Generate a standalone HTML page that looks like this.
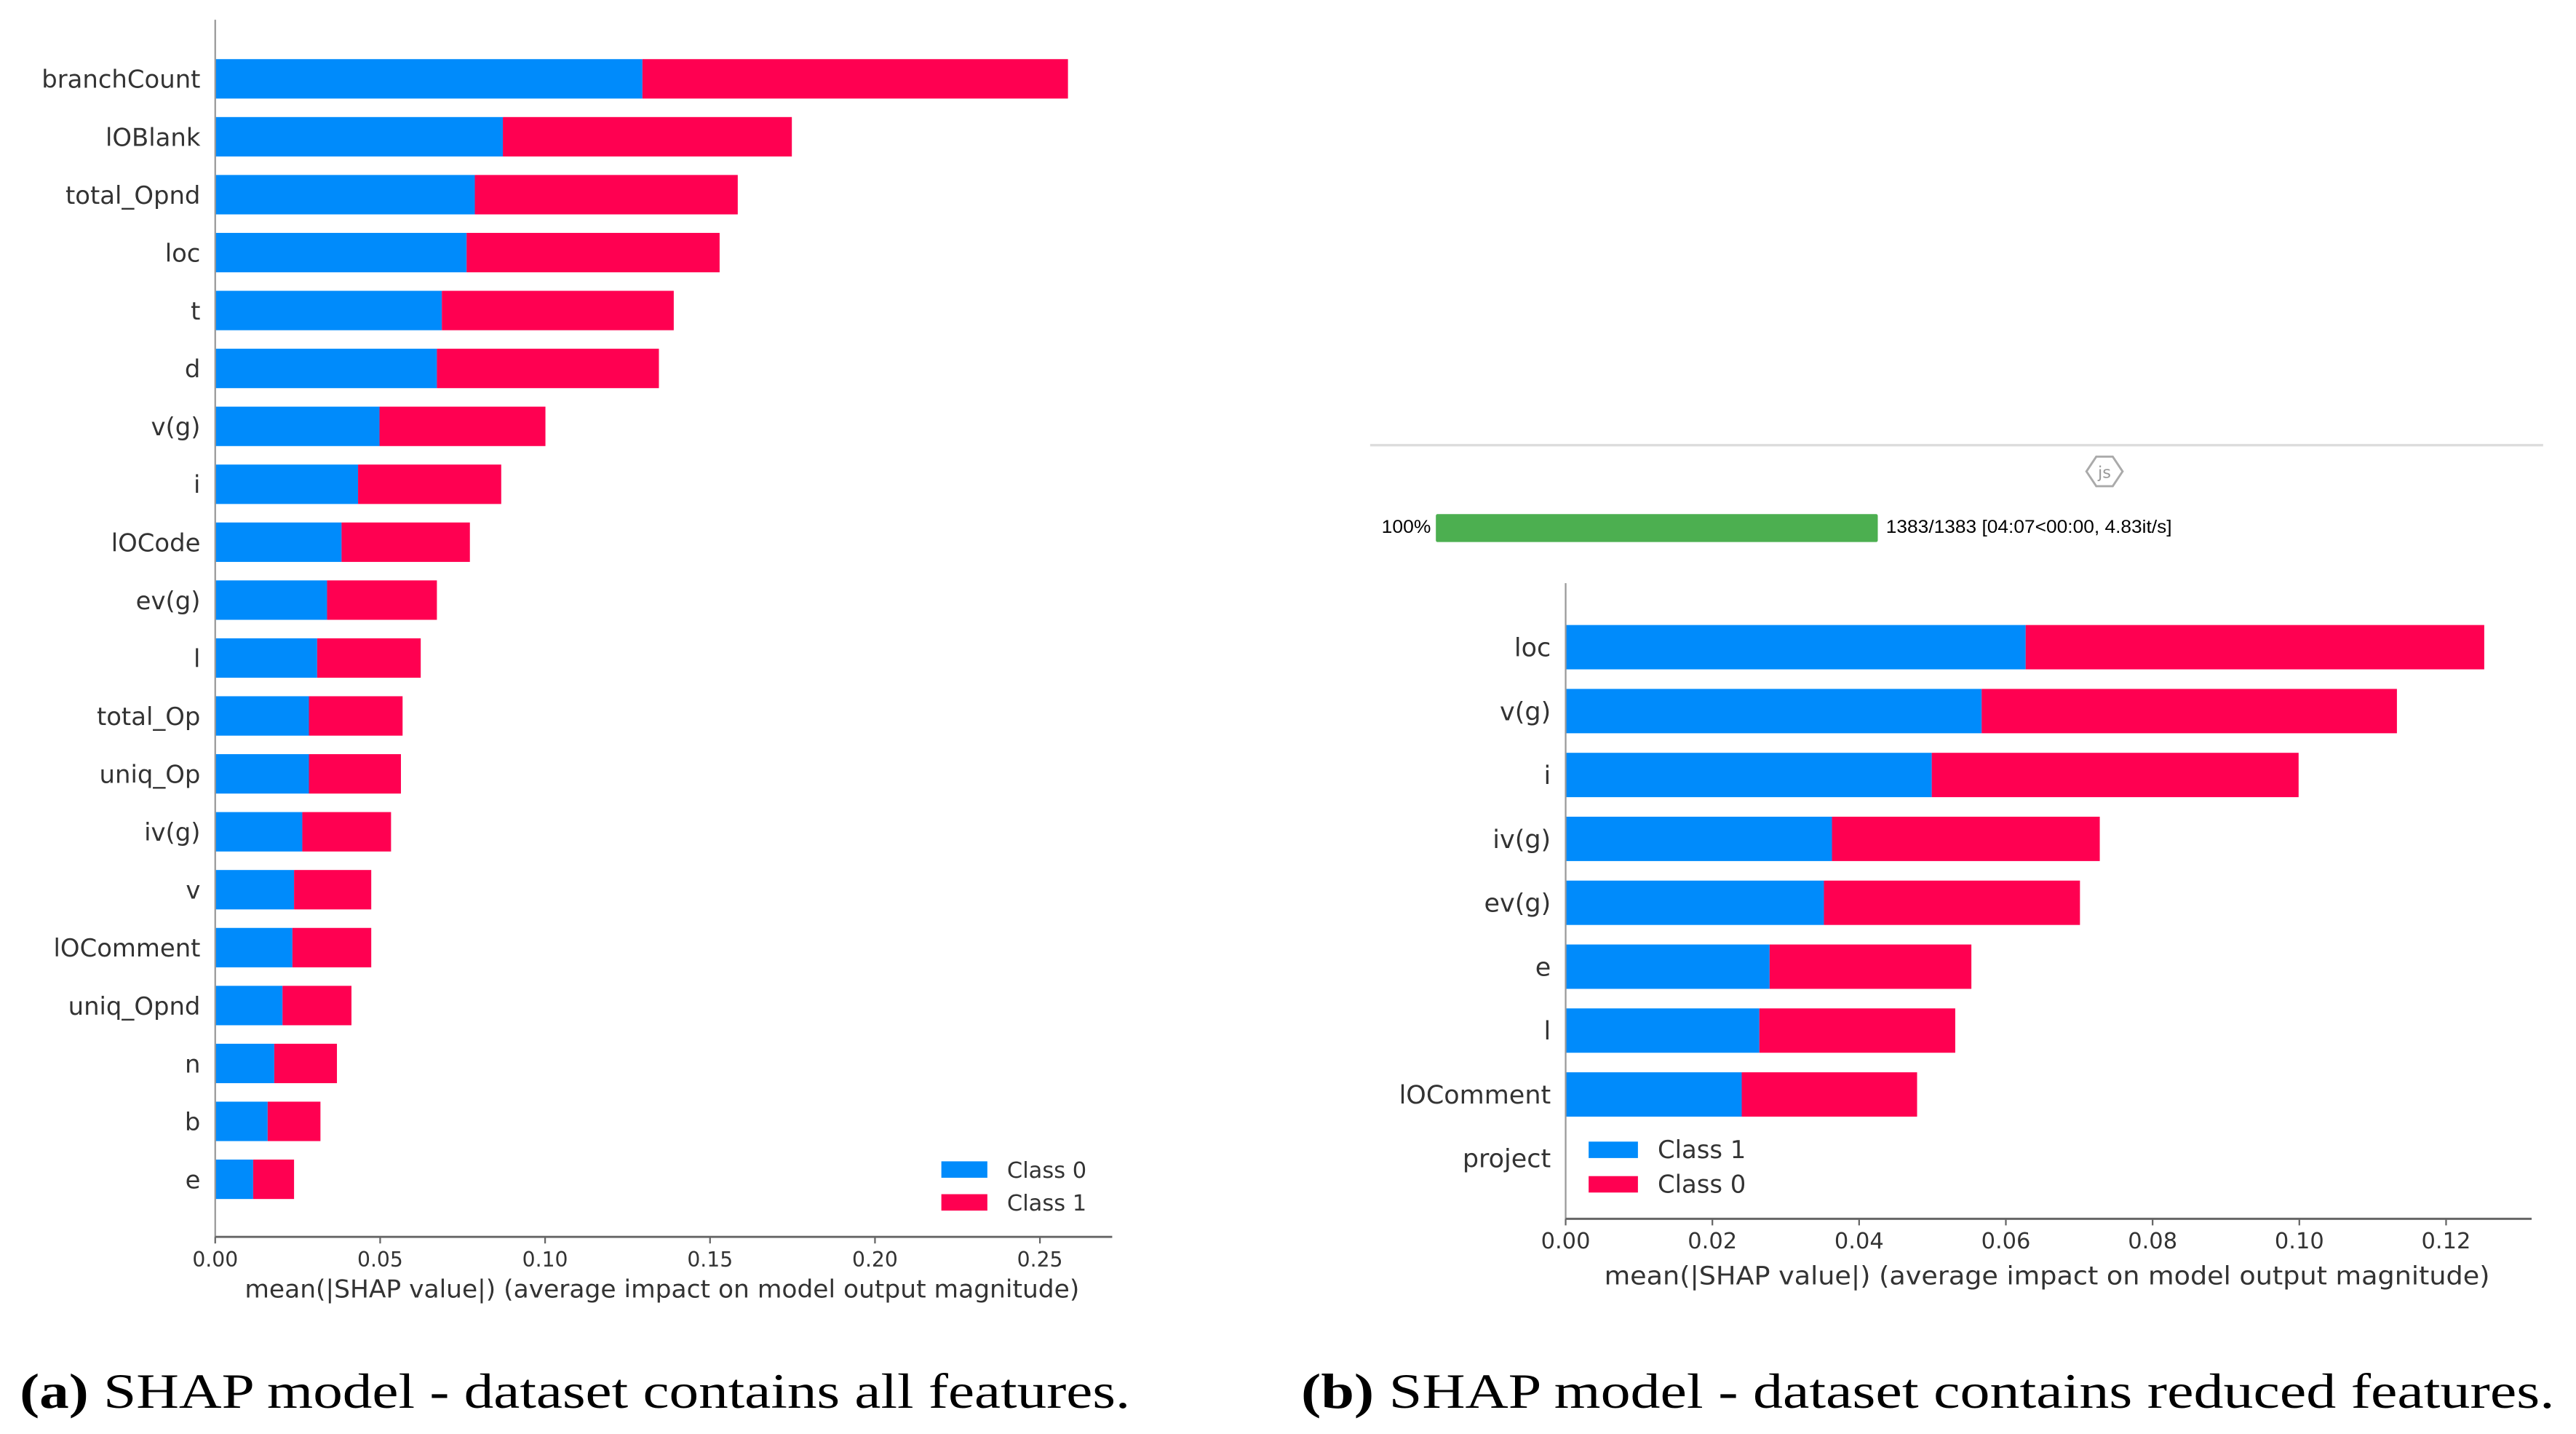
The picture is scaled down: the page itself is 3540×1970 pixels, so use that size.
<!DOCTYPE html>
<html><head><meta charset="utf-8"><style>
html,body{margin:0;padding:0;background:#fff;}
svg{display:block;}
</style></head><body>
<svg id="fig" xmlns="http://www.w3.org/2000/svg" width="3540" height="1970" viewBox="0 0 1568 873" preserveAspectRatio="none">
<rect x="0" y="0" width="1568" height="873" fill="#fff"/>
<g id="pa"></g>
<g id="pb"></g>
<line x1="834" y1="271" x2="1548" y2="271" stroke="#dcdcdc" stroke-width="1.5"/>
<g>
<polygon points="1276,278 1286,278 1292,287 1286,296 1276,296 1270,287" fill="none" stroke="#aaa" stroke-width="1.3"/>
<text x="1281" y="291" font-family="DejaVu Sans, sans-serif" font-size="10" fill="#999" text-anchor="middle">js</text>
</g>
<g>
<text x="841" y="324.5" font-family="Liberation Sans, sans-serif" font-size="11" fill="#000" textLength="30" lengthAdjust="spacingAndGlyphs">100%</text>
<rect x="874" y="313" width="269" height="17" rx="1" fill="#4caf50"/>
<text x="1148" y="324.5" font-family="Liberation Sans, sans-serif" font-size="11" fill="#000" textLength="174" lengthAdjust="spacingAndGlyphs">1383/1383 [04:07&lt;00:00, 4.83it/s]</text>
</g>
<text x="12" y="857" font-family="Liberation Serif, serif" font-size="30" fill="#000" textLength="676" lengthAdjust="spacingAndGlyphs"><tspan font-weight="bold">(a)</tspan> SHAP model - dataset contains all features.</text>
<text x="792" y="857" font-family="Liberation Serif, serif" font-size="30" fill="#000" textLength="763" lengthAdjust="spacingAndGlyphs"><tspan font-weight="bold">(b)</tspan> SHAP model - dataset contains reduced features.</text>
</svg>
<script>
// Panel A data
const aFeatures = ["branchCount","lOBlank","total_Opnd","loc","t","d","v(g)","i","lOCode","ev(g)","l","total_Op","uniq_Op","iv(g)","v","lOComment","uniq_Opnd","n","b","e"];
const aClass0 = [0.1295,0.0872,0.0787,0.0762,0.0687,0.0672,0.0498,0.0433,0.0383,0.0339,0.0309,0.0284,0.0284,0.0264,0.0239,0.0234,0.0204,0.0179,0.0159,0.0115];
const aClass1 = [0.1290,0.0876,0.0797,0.0767,0.0703,0.0673,0.0503,0.0434,0.0389,0.0333,0.0314,0.0284,0.0279,0.0269,0.0234,0.0239,0.0209,0.0190,0.0160,0.0124];
const aTicks = [0,0.05,0.10,0.15,0.20,0.25];
const aTickLabels = ["0.00","0.05","0.10","0.15","0.20","0.25"];
const aLegend = ["Class 0","Class 1"];
// Panel B data
const bFeatures = ["loc","v(g)","i","iv(g)","ev(g)","e","l","lOComment","project"];
const bBlue = [0.0627,0.0567,0.0499,0.0363,0.0352,0.0278,0.0264,0.0240,0];
const bRed = [0.0625,0.0566,0.0500,0.0365,0.0349,0.0275,0.0267,0.0239,0];
const bTicks = [0,0.02,0.04,0.06,0.08,0.10,0.12];
const bTickLabels = ["0.00","0.02","0.04","0.06","0.08","0.10","0.12"];
const bLegend = ["Class 1","Class 0"];

const NS="http://www.w3.org/2000/svg";
const BLUE="#008bfb", RED="#ff0051";
function mk(parent,tag,attrs,text){
  const e=document.createElementNS(NS,tag);
  for(const k in attrs) e.setAttribute(k,attrs[k]);
  if(text!==undefined) e.textContent=text;
  parent.appendChild(e); return e;
}
function drawChart(g,cfg,feats,v1,v2,ticks,tickLabels,legend){
  const x=v=>cfg.x0+v*cfg.scale;
  const y=i=>cfg.row0+i*cfg.step;
  const font="DejaVu Sans, sans-serif";
  feats.forEach((f,i)=>{
    if(v1[i]>0){
      const r1=mk(g,'rect',{x:x(0),y:y(i)-cfg.bh/2,width:x(v1[i])-x(0),height:cfg.bh,fill:BLUE});
      
      
      const r2=mk(g,'rect',{x:x(v1[i]),y:y(i)-cfg.bh/2,width:x(v1[i]+v2[i])-x(v1[i]),height:cfg.bh,fill:RED});
      
      
    }
    const t=mk(g,'text',{x:cfg.x0-9,y:y(i)+5.5,'font-family':font,'font-size':cfg.fs,fill:'#333','text-anchor':'end'},f);
    
    
  });
  const ya=mk(g,'line',{x1:cfg.x0,y1:cfg.top,x2:cfg.x0,y2:cfg.bottom,stroke:'#999','stroke-width':1});
  
  
  const xa=mk(g,'line',{x1:cfg.x0,y1:cfg.bottom,x2:cfg.xend,y2:cfg.bottom,stroke:'#666','stroke-width':1.3});
  
  
  ticks.forEach((tv,i)=>{
    mk(g,'line',{x1:x(tv),y1:cfg.bottom,x2:x(tv),y2:cfg.bottom+4,stroke:'#666','stroke-width':1});
    const tl=mk(g,'text',{x:x(tv),y:cfg.bottom+18,'font-family':font,'font-size':cfg.tfs,fill:'#333','text-anchor':'middle'},tickLabels[i]);
    
    
  });
  const xl=mk(g,'text',{x:cfg.labelX,y:cfg.bottom+cfg.labelDy,'font-family':font,'font-size':cfg.fs,fill:'#333','text-anchor':'middle',textLength:cfg.labelW,lengthAdjust:'spacingAndGlyphs'},'mean(|SHAP value|) (average impact on model output magnitude)');
  
  
  legend.forEach((lab,i)=>{
    const ly=cfg.legY+i*cfg.legStep;
    const lr=mk(g,'rect',{x:cfg.legX,y:ly-5,width:cfg.legW,height:10,fill:i==0?BLUE:RED});
    
    
    const lt=mk(g,'text',{x:cfg.legX+cfg.legW+12,y:ly+5,'font-family':font,'font-size':cfg.lfs,fill:'#333'},lab);
    
    
  });
}
drawChart(document.getElementById('pa'),
  {id:'a',x0:131,scale:2008,row0:48,step:35.26,bh:24,top:12,bottom:753,xend:677,fs:15,tfs:12.5,lfs:13.5,labelX:403,labelDy:37,labelW:508,legX:573,legY:712,legStep:20,legW:28},
  aFeatures,aClass0,aClass1,aTicks,aTickLabels,aLegend);
drawChart(document.getElementById('pb'),
  {id:'b',x0:953,scale:4466,row0:394,step:38.9,bh:27,top:355,bottom:742,xend:1541,fs:15.5,tfs:13.5,lfs:15,labelX:1246,labelDy:40,labelW:539,legX:967,legY:700,legStep:21,legW:30},
  bFeatures,bBlue,bRed,bTicks,bTickLabels,bLegend);
</script>
</body></html>
